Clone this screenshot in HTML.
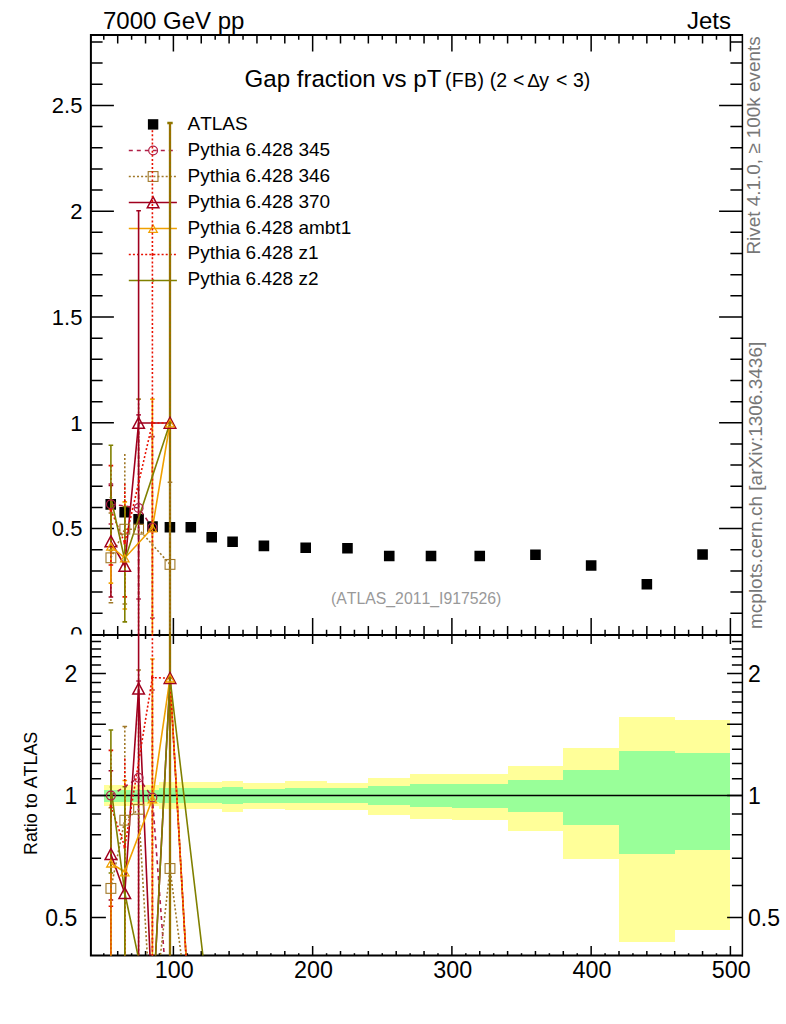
<!DOCTYPE html><html><head><meta charset="utf-8"><style>html,body{margin:0;padding:0;background:#fff;overflow:hidden}svg{display:block;font-kerning:none}</style></head><body><svg width="786" height="1024" viewBox="0 0 786 1024" font-family="Liberation Sans, sans-serif">
<rect width="786" height="1024" fill="#fff"/>
<path d="M103.78,785H117.70V806.3H103.78ZM117.70,785H131.62V806.3H117.70ZM131.62,785H145.55V806.3H131.62ZM145.55,785H159.47V806.3H145.55ZM159.47,782H180.36V809H159.47ZM180.36,782.3H201.25V809.4H180.36ZM201.25,782.3H222.14V809.4H201.25ZM222.14,780.5H243.03V811.5H222.14ZM243.03,782.9H284.80V808.8H243.03ZM284.80,781.2H326.58V810.2H284.80ZM326.58,782.5H368.35V809.7H326.58ZM368.35,777.9H410.12V814.8H368.35ZM410.12,774.1H451.90V819.4H410.12ZM451.90,773.7H507.60V820.4H451.90ZM507.60,765.7H563.30V831.2H507.60ZM563.30,747.7H619.00V859H563.30ZM619.00,716.5H674.70V941.7H619.00ZM674.70,720H730.40V930H674.70Z" fill="#ffff99" shape-rendering="crispEdges"/>
<path d="M103.78,789.7H117.70V801.5H103.78ZM117.70,789.7H131.62V801.5H117.70ZM131.62,789.7H145.55V801.5H131.62ZM145.55,789.7H159.47V801.5H145.55ZM159.47,787.8H180.36V803H159.47ZM180.36,788H201.25V802.7H180.36ZM201.25,788H222.14V802.7H201.25ZM222.14,787H243.03V804H222.14ZM243.03,789.4H284.80V802.7H243.03ZM284.80,788.1H326.58V802.8H284.80ZM326.58,788.3H368.35V802.8H326.58ZM368.35,786H410.12V805.1H368.35ZM410.12,784.3H451.90V807.2H410.12ZM451.90,784H507.60V807.6H451.90ZM507.60,780H563.30V812.3H507.60ZM563.30,770H619.00V824.7H563.30ZM619.00,750.9H674.70V853.6H619.00ZM674.70,753.1H730.40V850.1H674.70Z" fill="#99ff99" shape-rendering="crispEdges"/>
<line x1="90.9" y1="795.5" x2="742.1" y2="795.5" stroke="#000" stroke-width="1.6"/>
<path d="M90.9,613.24h11.7M742.1,613.24h-11.7M90.9,592.08h11.7M742.1,592.08h-11.7M90.9,570.92h11.7M742.1,570.92h-11.7M90.9,549.76h11.7M742.1,549.76h-11.7M90.9,528.60h23M742.1,528.60h-23M90.9,507.44h11.7M742.1,507.44h-11.7M90.9,486.28h11.7M742.1,486.28h-11.7M90.9,465.12h11.7M742.1,465.12h-11.7M90.9,443.96h11.7M742.1,443.96h-11.7M90.9,422.80h23M742.1,422.80h-23M90.9,401.64h11.7M742.1,401.64h-11.7M90.9,380.48h11.7M742.1,380.48h-11.7M90.9,359.32h11.7M742.1,359.32h-11.7M90.9,338.16h11.7M742.1,338.16h-11.7M90.9,317.00h23M742.1,317.00h-23M90.9,295.84h11.7M742.1,295.84h-11.7M90.9,274.68h11.7M742.1,274.68h-11.7M90.9,253.52h11.7M742.1,253.52h-11.7M90.9,232.36h11.7M742.1,232.36h-11.7M90.9,211.20h23M742.1,211.20h-23M90.9,190.04h11.7M742.1,190.04h-11.7M90.9,168.88h11.7M742.1,168.88h-11.7M90.9,147.72h11.7M742.1,147.72h-11.7M90.9,126.56h11.7M742.1,126.56h-11.7M90.9,105.40h23M742.1,105.40h-23M90.9,84.24h11.7M742.1,84.24h-11.7M90.9,63.08h11.7M742.1,63.08h-11.7M90.9,41.92h11.7M742.1,41.92h-11.7M103.78,35.0v4.7M103.78,634.5v-4.7M103.78,634.5v2.3M103.78,955.6v-2.3M117.70,35.0v8.6M117.70,634.5v-8.6M117.70,634.5v4.5M117.70,955.6v-4.5M131.62,35.0v4.7M131.62,634.5v-4.7M131.62,634.5v2.3M131.62,955.6v-2.3M145.55,35.0v8.6M145.55,634.5v-8.6M145.55,634.5v4.5M145.55,955.6v-4.5M159.47,35.0v4.7M159.47,634.5v-4.7M159.47,634.5v2.3M159.47,955.6v-2.3M173.40,35.0v16.4M173.40,634.5v-16.4M173.40,634.5v9.5M173.40,955.6v-9.5M187.33,35.0v4.7M187.33,634.5v-4.7M187.33,634.5v2.3M187.33,955.6v-2.3M201.25,35.0v8.6M201.25,634.5v-8.6M201.25,634.5v4.5M201.25,955.6v-4.5M215.18,35.0v4.7M215.18,634.5v-4.7M215.18,634.5v2.3M215.18,955.6v-2.3M229.10,35.0v8.6M229.10,634.5v-8.6M229.10,634.5v4.5M229.10,955.6v-4.5M243.03,35.0v4.7M243.03,634.5v-4.7M243.03,634.5v2.3M243.03,955.6v-2.3M256.95,35.0v8.6M256.95,634.5v-8.6M256.95,634.5v4.5M256.95,955.6v-4.5M270.88,35.0v4.7M270.88,634.5v-4.7M270.88,634.5v2.3M270.88,955.6v-2.3M284.80,35.0v8.6M284.80,634.5v-8.6M284.80,634.5v4.5M284.80,955.6v-4.5M298.73,35.0v4.7M298.73,634.5v-4.7M298.73,634.5v2.3M298.73,955.6v-2.3M312.65,35.0v16.4M312.65,634.5v-16.4M312.65,634.5v9.5M312.65,955.6v-9.5M326.58,35.0v4.7M326.58,634.5v-4.7M326.58,634.5v2.3M326.58,955.6v-2.3M340.50,35.0v8.6M340.50,634.5v-8.6M340.50,634.5v4.5M340.50,955.6v-4.5M354.43,35.0v4.7M354.43,634.5v-4.7M354.43,634.5v2.3M354.43,955.6v-2.3M368.35,35.0v8.6M368.35,634.5v-8.6M368.35,634.5v4.5M368.35,955.6v-4.5M382.27,35.0v4.7M382.27,634.5v-4.7M382.27,634.5v2.3M382.27,955.6v-2.3M396.20,35.0v8.6M396.20,634.5v-8.6M396.20,634.5v4.5M396.20,955.6v-4.5M410.12,35.0v4.7M410.12,634.5v-4.7M410.12,634.5v2.3M410.12,955.6v-2.3M424.05,35.0v8.6M424.05,634.5v-8.6M424.05,634.5v4.5M424.05,955.6v-4.5M437.98,35.0v4.7M437.98,634.5v-4.7M437.98,634.5v2.3M437.98,955.6v-2.3M451.90,35.0v16.4M451.90,634.5v-16.4M451.90,634.5v9.5M451.90,955.6v-9.5M465.83,35.0v4.7M465.83,634.5v-4.7M465.83,634.5v2.3M465.83,955.6v-2.3M479.75,35.0v8.6M479.75,634.5v-8.6M479.75,634.5v4.5M479.75,955.6v-4.5M493.68,35.0v4.7M493.68,634.5v-4.7M493.68,634.5v2.3M493.68,955.6v-2.3M507.60,35.0v8.6M507.60,634.5v-8.6M507.60,634.5v4.5M507.60,955.6v-4.5M521.52,35.0v4.7M521.52,634.5v-4.7M521.52,634.5v2.3M521.52,955.6v-2.3M535.45,35.0v8.6M535.45,634.5v-8.6M535.45,634.5v4.5M535.45,955.6v-4.5M549.38,35.0v4.7M549.38,634.5v-4.7M549.38,634.5v2.3M549.38,955.6v-2.3M563.30,35.0v8.6M563.30,634.5v-8.6M563.30,634.5v4.5M563.30,955.6v-4.5M577.23,35.0v4.7M577.23,634.5v-4.7M577.23,634.5v2.3M577.23,955.6v-2.3M591.15,35.0v16.4M591.15,634.5v-16.4M591.15,634.5v9.5M591.15,955.6v-9.5M605.08,35.0v4.7M605.08,634.5v-4.7M605.08,634.5v2.3M605.08,955.6v-2.3M619.00,35.0v8.6M619.00,634.5v-8.6M619.00,634.5v4.5M619.00,955.6v-4.5M632.93,35.0v4.7M632.93,634.5v-4.7M632.93,634.5v2.3M632.93,955.6v-2.3M646.85,35.0v8.6M646.85,634.5v-8.6M646.85,634.5v4.5M646.85,955.6v-4.5M660.77,35.0v4.7M660.77,634.5v-4.7M660.77,634.5v2.3M660.77,955.6v-2.3M674.70,35.0v8.6M674.70,634.5v-8.6M674.70,634.5v4.5M674.70,955.6v-4.5M688.62,35.0v4.7M688.62,634.5v-4.7M688.62,634.5v2.3M688.62,955.6v-2.3M702.55,35.0v8.6M702.55,634.5v-8.6M702.55,634.5v4.5M702.55,955.6v-4.5M716.48,35.0v4.7M716.48,634.5v-4.7M716.48,634.5v2.3M716.48,955.6v-2.3M730.40,35.0v16.4M730.40,634.5v-16.4M730.40,634.5v9.5M730.40,955.6v-9.5M90.9,917.50h15M742.1,917.50h-15M90.9,885.41h10.2M742.1,885.41h-10.2M90.9,858.28h10.2M742.1,858.28h-10.2M90.9,834.78h10.2M742.1,834.78h-10.2M90.9,814.04h10.2M742.1,814.04h-10.2M90.9,795.50h15M742.1,795.50h-15M90.9,778.72h10.2M742.1,778.72h-10.2M90.9,763.41h10.2M742.1,763.41h-10.2M90.9,749.32h10.2M742.1,749.32h-10.2M90.9,736.28h10.2M742.1,736.28h-10.2M90.9,724.13h15M742.1,724.13h-15M90.9,712.78h10.2M742.1,712.78h-10.2M90.9,702.10h10.2M742.1,702.10h-10.2M90.9,692.04h10.2M742.1,692.04h-10.2M90.9,682.53h10.2M742.1,682.53h-10.2M90.9,673.50h15M742.1,673.50h-15M90.9,664.91h10.2M742.1,664.91h-10.2M90.9,656.72h10.2M742.1,656.72h-10.2M90.9,648.90h10.2M742.1,648.90h-10.2M90.9,641.41h10.2M742.1,641.41h-10.2" stroke="#000" stroke-width="1.5" fill="none"/>
<path d="M90.9,34.0V956.6M89.9,35.0H742.85M89.9,955.6H742.85M90.9,634.9H742.1" stroke="#000" stroke-width="2" fill="none"/>
<path d="M742.4,34.0V956.6" stroke="#000" stroke-width="1.5" fill="none"/>
<text x="82.4" y="536.40" font-size="22" text-anchor="end">0.5</text>
<text x="82.4" y="430.60" font-size="22" text-anchor="end">1</text>
<text x="82.4" y="324.80" font-size="22" text-anchor="end">1.5</text>
<text x="82.4" y="219.00" font-size="22" text-anchor="end">2</text>
<text x="82.4" y="113.20" font-size="22" text-anchor="end">2.5</text>
<clipPath id="c0"><rect x="0" y="0" width="90" height="634.5"/></clipPath>
<text x="82.4" y="642.20" font-size="22" text-anchor="end" clip-path="url(#c0)">0</text>
<text x="77.2" y="682.20" font-size="23" text-anchor="end">2</text>
<text x="748" y="682.20" font-size="23">2</text>
<text x="77.2" y="804.20" font-size="23" text-anchor="end">1</text>
<text x="748" y="804.20" font-size="23">1</text>
<text x="77.2" y="926.20" font-size="23" text-anchor="end">0.5</text>
<text x="748" y="926.20" font-size="23">0.5</text>
<text x="174.20" y="978.2" font-size="23.3" text-anchor="middle">100</text>
<text x="313.45" y="978.2" font-size="23.3" text-anchor="middle">200</text>
<text x="452.70" y="978.2" font-size="23.3" text-anchor="middle">300</text>
<text x="591.95" y="978.2" font-size="23.3" text-anchor="middle">400</text>
<text x="731.20" y="978.2" font-size="23.3" text-anchor="middle">500</text>
<text x="103" y="28.6" font-size="24">7000 GeV pp</text>
<text x="731" y="28.9" font-size="24" text-anchor="end">Jets</text>
<text x="244.5" y="86.8" font-size="24.1">Gap fraction vs pT</text>
<text y="86.7" font-size="19.5"><tspan x="444.9" letter-spacing="0.37">(FB)</tspan><tspan x="489.7">(2</tspan><tspan x="512.9">&lt;</tspan><tspan x="527.3" font-size="19">Δ</tspan><tspan x="539.35">y</tspan><tspan x="556.1">&lt;</tspan><tspan x="573">3)</tspan></text>
<text x="331" y="604.2" font-size="15.8" fill="#999">(ATLAS_2011_I917526)</text>
<text transform="translate(760,254.6) rotate(-90)" font-size="18.9" fill="#777">Rivet 4.1.0, ≥ 100k events</text>
<text transform="translate(762,629) rotate(-90)" font-size="19" fill="#777">mcplots.cern.ch [arXiv:1306.3436]</text>
<text transform="translate(36.7,855) rotate(-90)" font-size="17.9">Ratio to ATLAS</text>
<text x="187.5" y="130.20" font-size="19">ATLAS</text>
<text x="187.5" y="156.03" font-size="19">Pythia 6.428 345</text>
<text x="187.5" y="181.86" font-size="19">Pythia 6.428 346</text>
<text x="187.5" y="207.69" font-size="19">Pythia 6.428 370</text>
<text x="187.5" y="233.52" font-size="19">Pythia 6.428 ambt1</text>
<text x="187.5" y="259.35" font-size="19">Pythia 6.428 z1</text>
<text x="187.5" y="285.18" font-size="19">Pythia 6.428 z2</text>
<path d="M105.44,499.10h10.6v10.6h-10.6ZM119.36,507.00h10.6v10.6h-10.6ZM133.29,514.10h10.6v10.6h-10.6ZM147.21,521.30h10.6v10.6h-10.6ZM164.62,521.90h10.6v10.6h-10.6ZM185.51,521.90h10.6v10.6h-10.6ZM206.39,532.00h10.6v10.6h-10.6ZM227.28,536.50h10.6v10.6h-10.6ZM258.61,540.60h10.6v10.6h-10.6ZM300.39,542.40h10.6v10.6h-10.6ZM342.16,543.00h10.6v10.6h-10.6ZM383.94,550.70h10.6v10.6h-10.6ZM425.71,550.70h10.6v10.6h-10.6ZM474.45,550.70h10.6v10.6h-10.6ZM530.15,549.40h10.6v10.6h-10.6ZM585.85,560.20h10.6v10.6h-10.6ZM641.55,579.00h10.6v10.6h-10.6ZM697.25,549.20h10.6v10.6h-10.6Z" fill="#000"/>
<path d="M128.8,150.50H176.9" stroke="#b01e46" stroke-width="1.6" fill="none" stroke-dasharray="4 4"/>
<circle cx="153.10" cy="150.50" r="4.4" fill="none" stroke="#b01e46" stroke-width="1.2"/>
<path d="M128.8,176.50H176.9" stroke="#a07828" stroke-width="1.6" fill="none" stroke-dasharray="2 2.1"/>
<rect x="148.20" y="171.60" width="9.8" height="9.8" fill="none" stroke="#a07828" stroke-width="1.1"/>
<path d="M128.8,202.50H176.9" stroke="#a0001e" stroke-width="1.6" fill="none"/>
<path d="M153.10,196.90L158.90,207.70H147.30Z" fill="none" stroke="#a0001e" stroke-width="1.5" stroke-linejoin="miter"/>
<path d="M128.8,228.50H176.9" stroke="#f0a000" stroke-width="1.6" fill="none"/>
<path d="M153.10,225.00L157.30,232.30H148.90Z" fill="none" stroke="#f0a000" stroke-width="1.3"/>
<path d="M128.8,254.50H176.9" stroke="#e81000" stroke-width="1.6" fill="none" stroke-dasharray="2 2.1"/>
<path d="M151.80,252.70L155.10,254.50L151.80,256.30Z" fill="#e81000"/>
<path d="M128.8,280.50H176.9" stroke="#808000" stroke-width="1.6" fill="none"/>
<circle cx="153.10" cy="280.50" r="1.3" fill="#808000"/>
<clipPath id="cu"><rect x="90.9" y="35.0" width="651.2" height="599.5"/></clipPath>
<clipPath id="cl"><rect x="90.9" y="634.5" width="651.2" height="321.1"/></clipPath>
<g clip-path="url(#cu)">
<path d="M170,123V700M167.3,123h5.4" stroke="#8c7800" stroke-width="2.3" fill="none"/>
<path d="M170,123V700" stroke="#d05000" stroke-width="1.2" stroke-dasharray="2 2.1" stroke-opacity="0.55" fill="none"/>
<path d="M110.90,484.00V524.00" stroke="#b01e46" stroke-width="1.6" fill="none" stroke-dasharray="4 4"/><path d="M108.60,484.00h4.6M113.20,524.00h-4.6" stroke="#b01e46" stroke-width="1.6" fill="none"/>
<path d="M138.60,414.90V599.00" stroke="#b01e46" stroke-width="1.6" fill="none" stroke-dasharray="4 4"/><path d="M136.30,414.90h4.6M140.90,599.00h-4.6" stroke="#b01e46" stroke-width="1.6" fill="none"/>
<path d="M152.40,436.60V618.00" stroke="#b01e46" stroke-width="1.6" fill="none" stroke-dasharray="4 4"/><path d="M150.10,436.60h4.6M154.70,618.00h-4.6" stroke="#b01e46" stroke-width="1.6" fill="none"/>
<path d="M110.90,513.00V602.70" stroke="#a07828" stroke-width="1.6" fill="none" stroke-dasharray="2 2.1"/><path d="M108.60,513.00h4.6M113.20,602.70h-4.6" stroke="#a07828" stroke-width="1.6" fill="none"/>
<path d="M124.80,454.00V604.00" stroke="#a07828" stroke-width="1.6" fill="none" stroke-dasharray="2 2.1"/><path d="M127.10,604.00h-4.6" stroke="#a07828" stroke-width="1.6" fill="none"/>
<path d="M138.60,399.10V660.00" stroke="#a07828" stroke-width="1.6" fill="none" stroke-dasharray="2 2.1"/><path d="M136.30,399.10h4.6" stroke="#a07828" stroke-width="1.6" fill="none"/>
<path d="M170.00,482.30V646.00" stroke="#a07828" stroke-width="1.6" fill="none" stroke-dasharray="2 2.1"/><path d="M167.70,482.30h4.6" stroke="#a07828" stroke-width="1.6" fill="none"/>
<path d="M110.90,485.50V597.00" stroke="#a0001e" stroke-width="1.6" fill="none"/><path d="M108.60,485.50h4.6M113.20,597.00h-4.6" stroke="#a0001e" stroke-width="1.6" fill="none"/>
<path d="M138.60,210.80V660.00" stroke="#a0001e" stroke-width="1.6" fill="none"/><path d="M136.30,210.80h4.6" stroke="#a0001e" stroke-width="1.6" fill="none"/>
<path d="M110.90,509.00V583.10" stroke="#f0a000" stroke-width="1.6" fill="none"/><path d="M108.60,509.00h4.6M113.20,583.10h-4.6" stroke="#f0a000" stroke-width="1.6" fill="none"/>
<path d="M124.80,501.90V609.00" stroke="#f0a000" stroke-width="1.6" fill="none"/><path d="M122.50,501.90h4.6M127.10,609.00h-4.6" stroke="#f0a000" stroke-width="1.6" fill="none"/>
<path d="M152.40,399.10V660.00" stroke="#f0a000" stroke-width="1.6" fill="none"/><path d="M150.10,399.10h4.6" stroke="#f0a000" stroke-width="1.6" fill="none"/>
<path d="M110.90,465.60V565.00" stroke="#e81000" stroke-width="1.6" fill="none" stroke-dasharray="2 2.1"/><path d="M108.60,465.60h4.6M113.20,565.00h-4.6" stroke="#e81000" stroke-width="1.6" fill="none"/>
<path d="M124.80,483.70V596.90" stroke="#e81000" stroke-width="1.6" fill="none" stroke-dasharray="2 2.1"/><path d="M127.10,596.90h-4.6" stroke="#e81000" stroke-width="1.6" fill="none"/>
<path d="M152.40,122.00V700.00" stroke="#e81000" stroke-width="1.6" fill="none" stroke-dasharray="2 2.1"/><path d="M150.10,122.00h4.6" stroke="#e81000" stroke-width="1.6" fill="none"/>
<path d="M110.90,445.20V550.40" stroke="#808000" stroke-width="1.6" fill="none"/><path d="M108.60,445.20h4.6M113.20,550.40h-4.6" stroke="#808000" stroke-width="1.6" fill="none"/>
<path d="M124.80,506.50V621.90" stroke="#808000" stroke-width="1.6" fill="none"/><path d="M122.50,506.50h4.6M127.10,621.90h-4.6" stroke="#808000" stroke-width="1.6" fill="none"/>
<path d="M110.90,504.20 L138.60,508.00 L152.40,527.50" stroke="#b01e46" stroke-width="1.6" fill="none" stroke-dasharray="4 4"/>
<path d="M110.90,557.80 L124.80,529.20 L138.60,529.20 L170.00,564.40" stroke="#a07828" stroke-width="1.6" fill="none" stroke-dasharray="2 2.1"/>
<path d="M110.90,541.50 L124.80,566.00 L138.60,423.00 L170.00,423.00" stroke="#a0001e" stroke-width="1.6" fill="none"/>
<path d="M110.90,546.30 L124.80,558.00 L152.40,528.00 L170.00,423.00" stroke="#f0a000" stroke-width="1.6" fill="none"/>
<path d="M110.90,510.00 L124.80,543.00 L152.40,423.00 L170.00,423.00" stroke="#e81000" stroke-width="1.6" fill="none" stroke-dasharray="2 2.1"/>
<path d="M110.90,497.60 L124.80,560.00 L170.00,423.00" stroke="#808000" stroke-width="1.6" fill="none"/>
<circle cx="110.90" cy="504.20" r="4.4" fill="none" stroke="#b01e46" stroke-width="1.2"/>
<circle cx="138.60" cy="508.00" r="4.4" fill="none" stroke="#b01e46" stroke-width="1.2"/>
<circle cx="152.40" cy="527.50" r="4.4" fill="none" stroke="#b01e46" stroke-width="1.2"/>
<rect x="106.00" y="552.90" width="9.8" height="9.8" fill="none" stroke="#a07828" stroke-width="1.1"/>
<rect x="119.90" y="524.30" width="9.8" height="9.8" fill="none" stroke="#a07828" stroke-width="1.1"/>
<rect x="133.70" y="524.30" width="9.8" height="9.8" fill="none" stroke="#a07828" stroke-width="1.1"/>
<rect x="165.10" y="559.50" width="9.8" height="9.8" fill="none" stroke="#a07828" stroke-width="1.1"/>
<path d="M110.90,535.90L116.70,546.70H105.10Z" fill="none" stroke="#a0001e" stroke-width="1.5" stroke-linejoin="miter"/>
<path d="M124.80,560.40L130.60,571.20H119.00Z" fill="none" stroke="#a0001e" stroke-width="1.5" stroke-linejoin="miter"/>
<path d="M138.60,417.40L144.40,428.20H132.80Z" fill="none" stroke="#a0001e" stroke-width="1.5" stroke-linejoin="miter"/>
<path d="M170.00,417.40L175.80,428.20H164.20Z" fill="none" stroke="#a0001e" stroke-width="1.5" stroke-linejoin="miter"/>
<path d="M110.90,542.80L115.10,550.10H106.70Z" fill="none" stroke="#f0a000" stroke-width="1.3"/>
<path d="M124.80,554.50L129.00,561.80H120.60Z" fill="none" stroke="#f0a000" stroke-width="1.3"/>
<path d="M152.40,524.50L156.60,531.80H148.20Z" fill="none" stroke="#f0a000" stroke-width="1.3"/>
<path d="M170.00,419.50L174.20,426.80H165.80Z" fill="none" stroke="#f0a000" stroke-width="1.3"/>
<path d="M109.60,508.20L112.90,510.00L109.60,511.80Z" fill="#e81000"/>
<path d="M123.50,541.20L126.80,543.00L123.50,544.80Z" fill="#e81000"/>
<path d="M151.10,421.20L154.40,423.00L151.10,424.80Z" fill="#e81000"/>
<path d="M168.70,421.20L172.00,423.00L168.70,424.80Z" fill="#e81000"/>
<circle cx="110.90" cy="497.60" r="1.3" fill="#808000"/>
<circle cx="124.80" cy="560.00" r="1.3" fill="#808000"/>
<circle cx="170.00" cy="423.00" r="1.3" fill="#808000"/>
</g>
<g clip-path="url(#cl)">
<path d="M170,630V960" stroke="#8c7800" stroke-width="2.3" fill="none"/>
<path d="M170,630V960" stroke="#d05000" stroke-width="1.2" stroke-dasharray="2 2.1" stroke-opacity="0.55" fill="none"/>
<path d="M152.40,690.00V960.00" stroke="#b01e46" stroke-width="1.6" fill="none" stroke-dasharray="4 4"/><path d="M150.10,690.00h4.6" stroke="#b01e46" stroke-width="1.6" fill="none"/>
<path d="M138.60,670.00V960.00" stroke="#a07828" stroke-width="1.6" fill="none" stroke-dasharray="2 2.1"/><path d="M136.30,670.00h4.6" stroke="#a07828" stroke-width="1.6" fill="none"/>
<path d="M138.60,681.00V700.00" stroke="#b01e46" stroke-width="1.6" fill="none" stroke-dasharray="4 4"/><path d="M136.30,681.00h4.6" stroke="#b01e46" stroke-width="1.6" fill="none"/>
<path d="M124.80,726.50V960.00" stroke="#a07828" stroke-width="1.6" fill="none" stroke-dasharray="2 2.1"/><path d="M122.50,726.50h4.6" stroke="#a07828" stroke-width="1.6" fill="none"/>
<path d="M110.90,807.70V960.00" stroke="#a07828" stroke-width="1.6" fill="none" stroke-dasharray="2 2.1"/><path d="M108.60,807.70h4.6" stroke="#a07828" stroke-width="1.6" fill="none"/>
<path d="M110.90,770.70V900.00" stroke="#a0001e" stroke-width="1.6" fill="none"/><path d="M108.60,770.70h4.6M113.20,900.00h-4.6" stroke="#a0001e" stroke-width="1.6" fill="none"/>
<path d="M138.60,630.00V960.00" stroke="#a0001e" stroke-width="1.6" fill="none"/>
<path d="M110.90,873.00V960.00" stroke="#f0a000" stroke-width="1.6" fill="none"/>
<path d="M124.80,780.50V960.00" stroke="#f0a000" stroke-width="1.6" fill="none"/><path d="M122.50,780.50h4.6" stroke="#f0a000" stroke-width="1.6" fill="none"/>
<path d="M152.40,659.00V960.00" stroke="#f0a000" stroke-width="1.6" fill="none"/><path d="M150.10,659.00h4.6" stroke="#f0a000" stroke-width="1.6" fill="none"/>
<path d="M110.90,750.40V906.30" stroke="#e81000" stroke-width="1.6" fill="none" stroke-dasharray="2 2.1"/><path d="M108.60,750.40h4.6M113.20,906.30h-4.6" stroke="#e81000" stroke-width="1.6" fill="none"/>
<path d="M124.80,758.60V960.00" stroke="#e81000" stroke-width="1.6" fill="none" stroke-dasharray="2 2.1"/>
<path d="M152.40,630.00V960.00" stroke="#e81000" stroke-width="1.6" fill="none" stroke-dasharray="2 2.1"/>
<path d="M110.90,730.00V873.00" stroke="#808000" stroke-width="1.6" fill="none"/><path d="M108.60,730.00h4.6M113.20,873.00h-4.6" stroke="#808000" stroke-width="1.6" fill="none"/>
<path d="M124.80,786.70V960.00" stroke="#808000" stroke-width="1.6" fill="none"/><path d="M122.50,786.70h4.6" stroke="#808000" stroke-width="1.6" fill="none"/>
<path d="M110.9,873V960" stroke="#dc7000" stroke-width="1.6" fill="none"/>
<path d="M110.9,906.3V960" stroke="#e81000" stroke-width="1" stroke-dasharray="2 2.1" stroke-opacity="0.5" fill="none"/>
<path d="M110.90,795.60 L138.60,777.70 L152.40,797.50 L167.19,995.60" stroke="#b01e46" stroke-width="1.6" fill="none" stroke-dasharray="4 4"/>
<path d="M110.90,888.40 L124.80,820.20 L138.60,809.30 L149.68,995.60" stroke="#a07828" stroke-width="1.6" fill="none" stroke-dasharray="2 2.1"/>
<path d="M155.99,995.60 L170.00,868.50 L186.34,995.60" stroke="#a07828" stroke-width="1.6" fill="none" stroke-dasharray="2 2.1"/>
<path d="M110.90,854.20 L124.80,893.20 L138.60,688.70 L151.71,995.60" stroke="#a0001e" stroke-width="1.6" fill="none"/>
<path d="M153.52,995.60 L170.00,678.20 L188.31,995.60" stroke="#a0001e" stroke-width="1.6" fill="none"/>
<path d="M110.90,863.20 L124.80,872.00 L152.40,799.00 L170.00,678.20 L188.31,995.60" stroke="#f0a000" stroke-width="1.6" fill="none"/>
<path d="M110.90,806.00 L124.80,847.00 L152.40,677.60 L170.00,678.20 L188.31,995.60" stroke="#e81000" stroke-width="1.6" fill="none" stroke-dasharray="2 2.1"/>
<path d="M110.90,787.10 L124.80,893.00 L146.43,995.60" stroke="#808000" stroke-width="1.6" fill="none"/>
<path d="M153.52,995.60 L170.00,678.20 L207.64,995.60" stroke="#808000" stroke-width="1.6" fill="none"/>
<circle cx="110.90" cy="795.60" r="4.4" fill="none" stroke="#b01e46" stroke-width="1.2"/>
<circle cx="138.60" cy="777.70" r="4.4" fill="none" stroke="#b01e46" stroke-width="1.2"/>
<circle cx="152.40" cy="797.50" r="4.4" fill="none" stroke="#b01e46" stroke-width="1.2"/>
<rect x="106.00" y="883.50" width="9.8" height="9.8" fill="none" stroke="#a07828" stroke-width="1.1"/>
<rect x="119.90" y="815.30" width="9.8" height="9.8" fill="none" stroke="#a07828" stroke-width="1.1"/>
<rect x="133.70" y="804.40" width="9.8" height="9.8" fill="none" stroke="#a07828" stroke-width="1.1"/>
<rect x="165.10" y="863.60" width="9.8" height="9.8" fill="none" stroke="#a07828" stroke-width="1.1"/>
<path d="M110.90,848.60L116.70,859.40H105.10Z" fill="none" stroke="#a0001e" stroke-width="1.5" stroke-linejoin="miter"/>
<path d="M124.80,887.60L130.60,898.40H119.00Z" fill="none" stroke="#a0001e" stroke-width="1.5" stroke-linejoin="miter"/>
<path d="M138.60,683.10L144.40,693.90H132.80Z" fill="none" stroke="#a0001e" stroke-width="1.5" stroke-linejoin="miter"/>
<path d="M170.00,672.60L175.80,683.40H164.20Z" fill="none" stroke="#a0001e" stroke-width="1.5" stroke-linejoin="miter"/>
<path d="M110.90,859.70L115.10,867.00H106.70Z" fill="none" stroke="#f0a000" stroke-width="1.3"/>
<path d="M124.80,868.50L129.00,875.80H120.60Z" fill="none" stroke="#f0a000" stroke-width="1.3"/>
<path d="M152.40,795.50L156.60,802.80H148.20Z" fill="none" stroke="#f0a000" stroke-width="1.3"/>
<path d="M170.00,674.70L174.20,682.00H165.80Z" fill="none" stroke="#f0a000" stroke-width="1.3"/>
<path d="M109.60,804.20L112.90,806.00L109.60,807.80Z" fill="#e81000"/>
<path d="M123.50,845.20L126.80,847.00L123.50,848.80Z" fill="#e81000"/>
<path d="M151.10,675.80L154.40,677.60L151.10,679.40Z" fill="#e81000"/>
<path d="M168.70,676.40L172.00,678.20L168.70,680.00Z" fill="#e81000"/>
<circle cx="110.90" cy="787.10" r="1.3" fill="#808000"/>
<circle cx="124.80" cy="893.00" r="1.3" fill="#808000"/>
<circle cx="170.00" cy="678.20" r="1.3" fill="#808000"/>
</g>
<rect x="147.9" y="119.2" width="10.4" height="10.4" fill="#000"/>
</svg></body></html>
